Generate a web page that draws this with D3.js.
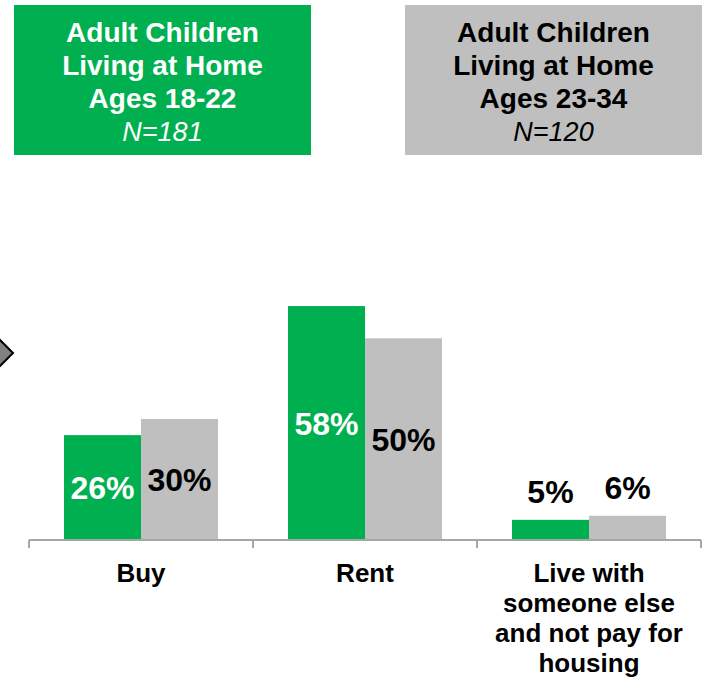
<!DOCTYPE html>
<html>
<head>
<meta charset="utf-8">
<script src="https://cdn.jsdelivr.net/npm/d3@7"></script>
<style>
	body { margin: 0; background: #fff; }
	text { font-family: "Liberation Sans", Arial, sans-serif; }
</style>
</head>
<body>
<div id="chart"></div>
<script>
var categories = [["Buy"], ["Rent"], ["Live with", "someone else", "and not pay for", "housing"]];
var series = ["Ages 18-22", "Ages 23-34"];
var values1822 = [26, 58, 5];
var values2334 = [30, 50, 6];
var legendLines = [
	["Adult Children", "Living at Home", "Ages 18-22", "N=181"],
	["Adult Children", "Living at Home", "Ages 23-34", "N=120"]
];
var colors = ["#00b050", "#bfbfbf"];
var labelColors = ["#fff", "#000"];

var width = 703, height = 677;
var svg = d3.select("#chart")
	.append("svg")
	.attr("width", width)
	.attr("height", height)
	;

var catIdx = d3.range(categories.length);
var x0 = d3.scaleBand()
	.domain(catIdx)
	.range([29, 701])
	;
var x1 = d3.scaleBand()
	.domain(series)
	.range([0, x0.bandwidth()])
	.paddingOuter(0.4545)
	;
var y = d3.scaleLinear()
	.domain([0, 60])
	.range([540, 298])
	;

// legend boxes
var lg = svg.selectAll("g.legend")
	.data(legendLines)
	.enter().append("g")
	.attr("class", "legend")
	.attr("transform", function(d, i) {
		return "translate(" + (i === 0 ? 14 : 405) + ",5)";
	})
	;
lg.append("rect")
	.attr("width", 297)
	.attr("height", 150)
	.attr("fill", function(d, i) { return colors[i]; })
	;
lg.each(function(lines, i) {
	d3.select(this).selectAll("text")
		.data(lines)
		.enter().append("text")
		.attr("x", 148.5)
		.attr("y", function(d, j) { return 37 + j * 33; })
		.attr("text-anchor", "middle")
		.attr("fill", labelColors[i])
		.style("font-size", function(d, j) { return j === 3 ? "27px" : "28px"; })
		.style("font-weight", function(d, j) { return j === 3 ? "normal" : "bold"; })
		.style("font-style", function(d, j) { return j === 3 ? "italic" : "normal"; })
		.text(function(d) { return d; })
		;
});

// grey arrow shape cut at left edge
svg.append("polygon")
	.attr("points", "-6,334 13,353 -6,372 -25,353")
	.attr("fill", "#808080")
	.attr("stroke", "#000")
	.attr("stroke-width", 2)
	;

// bars
var rows = catIdx.map(function(i) {
	return [
		{ s: 0, cat: i, v: values1822[i] },
		{ s: 1, cat: i, v: values2334[i] }
	];
});

var groups = svg.selectAll("g.cat")
	.data(rows)
	.enter().append("g")
	.attr("class", "cat")
	.attr("transform", function(d, i) { return "translate(" + x0(i) + ",0)"; })
	;
groups.selectAll("rect")
	.data(function(d) { return d; })
	.enter().append("rect")
	.attr("x", function(d) { return x1(series[d.s]); })
	.attr("width", x1.bandwidth())
	.attr("y", function(d) { return y(d.v); })
	.attr("height", function(d) { return y(0) - y(d.v); })
	.attr("fill", function(d) { return colors[d.s]; })
	;
groups.selectAll("text.val")
	.data(function(d) { return d; })
	.enter().append("text")
	.attr("class", "val")
	.attr("x", function(d) { return x1(series[d.s]) + x1.bandwidth() / 2; })
	.attr("y", function(d) {
		return d.v < 10 ? y(d.v) - 17 : (y(d.v) + y(0)) / 2;
	})
	.attr("dy", function(d) { return d.v < 10 ? 0 : "0.36em"; })
	.attr("text-anchor", "middle")
	.attr("fill", function(d) { return d.v < 10 ? "#000" : labelColors[d.s]; })
	.style("font-size", "32px")
	.style("font-weight", "bold")
	.text(function(d) { return d.v + "%"; })
	;

// axis line with ticks at category boundaries
var tickX = catIdx.map(function(i) { return x0(i); }).concat([x0(catIdx.length - 1) + x0.bandwidth()]);
svg.append("line")
	.attr("x1", x0.range()[0])
	.attr("x2", x0.range()[1])
	.attr("y1", y(0))
	.attr("y2", y(0))
	.attr("stroke", "#a6a6a6")
	.attr("stroke-width", 2)
	;
svg.selectAll("line.tick")
	.data(tickX)
	.enter().append("line")
	.attr("class", "tick")
	.attr("x1", function(d) { return d; })
	.attr("x2", function(d) { return d; })
	.attr("y1", y(0))
	.attr("y2", y(0) + 8)
	.attr("stroke", "#a6a6a6")
	.attr("stroke-width", 2)
	;

// category labels
var cl = svg.selectAll("text.cat")
	.data(categories)
	.enter().append("text")
	.attr("class", "cat")
	.attr("text-anchor", "middle")
	.style("font-size", "26px")
	.style("font-weight", "bold")
	.attr("fill", "#000")
	;
cl.selectAll("tspan")
	.data(function(d, i) { return d.map(function(t) { return { t: t, i: i }; }); })
	.enter().append("tspan")
	.attr("x", function(d) { return x0(d.i) + x0.bandwidth() / 2; })
	.attr("y", function(d, j) { return 582 + j * 30; })
	.text(function(d) { return d.t; })
	;
</script>
</body>
</html>
